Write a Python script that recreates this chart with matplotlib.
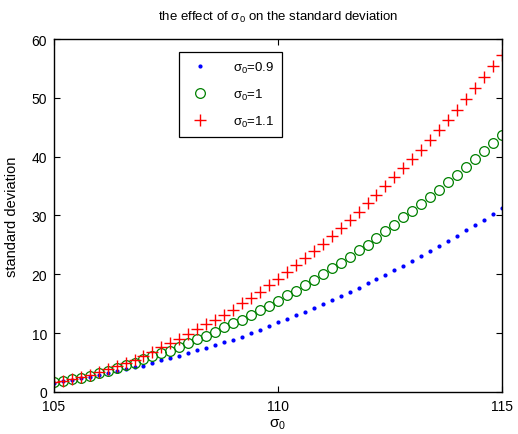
import matplotlib
matplotlib.use("Agg")
import matplotlib.pyplot as plt
import numpy as np

plt.rcParams['font.family'] = ['Liberation Sans', 'DejaVu Sans']
plt.rcParams['mathtext.fontset'] = 'custom'
plt.rcParams['mathtext.rm'] = 'Liberation Sans'
plt.rcParams['mathtext.it'] = 'Liberation Sans'

x_start, x_stop, x_count = 105, 115, 51
sigma_values = np.linspace(x_start, x_stop, x_count)

std_09 = [1.60, 1.80, 2.05, 2.30, 2.60, 2.95, 3.30, 3.55, 3.90, 4.20,
          4.50, 5.00, 5.45, 5.73, 6.12, 6.58, 7.14, 7.53, 7.99, 8.50,
          8.90, 9.35, 9.98, 10.60, 11.17, 11.85, 12.41, 13.10, 13.66, 14.23,
          14.91, 15.65, 16.33, 17.00, 17.74, 18.48, 19.22, 19.95, 20.75, 21.50,
          22.33, 23.18, 23.98, 24.83, 25.68, 26.53, 27.50, 28.40, 29.30, 30.22,
          31.24]
std_10 = [1.65, 1.93, 2.15, 2.44, 2.78, 3.17, 3.63, 4.08, 4.59, 5.00,
          5.55, 6.06, 6.70, 7.03, 7.65, 8.33, 9.01, 9.58, 10.26, 11.00,
          11.68, 12.30, 13.04, 13.89, 14.68, 15.53, 16.50, 17.23, 18.20, 19.05,
          20.01, 21.04, 22.00, 23.02, 24.15, 25.05, 26.19, 27.33, 28.40, 29.71,
          30.83, 31.97, 33.11, 34.40, 35.66, 36.90, 38.21, 39.63, 41.04, 42.40,
          43.76]
std_11 = [1.65, 1.93, 2.20, 2.50, 2.95, 3.34, 3.90, 4.36, 4.93, 5.44,
          6.06, 6.75, 7.60, 8.33, 9.01, 9.80, 10.66, 11.51, 12.30, 13.15,
          14.00, 15.08, 16.04, 17.06, 18.20, 19.25, 20.35, 21.60, 22.73, 24.03,
          25.22, 26.53, 27.89, 29.25, 30.66, 32.09, 33.50, 34.98, 36.51, 38.04,
          39.63, 41.21, 42.86, 44.56, 46.26, 48.01, 49.78, 51.64, 53.52, 55.33,
          57.20]
labels = ['σ$_0$=0.9', 'σ$_0$=1', 'σ$_0$=1.1']
x_ticks = [105, 110, 115]
y_ticks = [0, 10, 20, 30, 40, 50, 60]

fig = plt.figure(figsize=(5.18, 4.35), dpi=100)
ax = fig.add_axes([0.104, 0.0966, 0.865, 0.8114])

ax.plot(sigma_values, std_09, linestyle='none', marker='.', color=(0, 0, 1),
        markersize=4, label=labels[0])
ax.plot(sigma_values, std_10, linestyle='none', marker='o', markerfacecolor='none',
        markeredgecolor=(0, 0.5, 0), markeredgewidth=0.9, markersize=7, label=labels[1])
ax.plot(sigma_values, std_11, linestyle='none', marker='+', color=(1, 0, 0),
        markersize=8, markeredgewidth=1.0, label=labels[2])

ax.set_xlim(105, 115)
ax.set_ylim(0, 60)
ax.set_xticks(x_ticks)
ax.set_yticks(y_ticks)
ax.tick_params(direction='in', length=4, width=0.8, top=True, right=True,
               labelsize=10, pad=5)
for s in ax.spines.values():
    s.set_linewidth(1.0)

ax.set_title('the effect of σ$_0$ on the standard deviation', fontsize=9.5, pad=14)
ax.set_xlabel('σ$_0$', fontsize=11, labelpad=3)
ax.set_ylabel('standard deviation', fontsize=10.5, labelpad=9)

leg = ax.legend(loc='upper left', bbox_to_anchor=(0.279, 0.963), borderaxespad=0,
                fontsize=9.5, frameon=True, fancybox=False, edgecolor='black',
                framealpha=1, borderpad=0.6, labelspacing=0.9, handletextpad=1.5,
                handlelength=2.0)
leg.get_frame().set_linewidth(0.9)

fig.savefig('out.png', dpi=100)
